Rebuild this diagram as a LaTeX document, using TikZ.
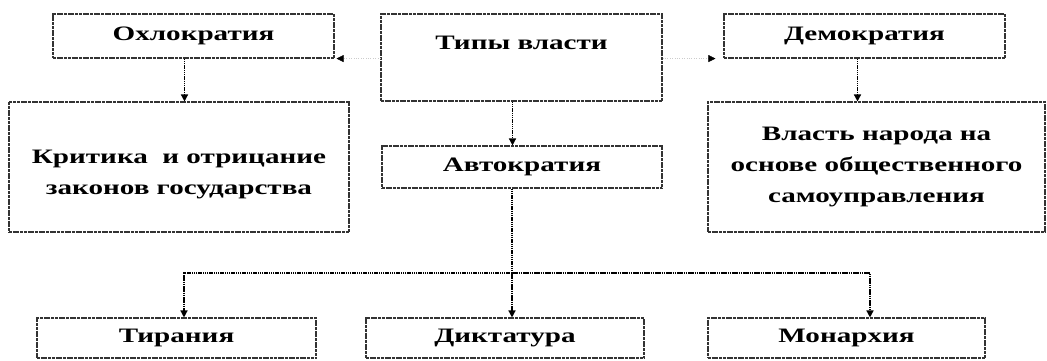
\documentclass[tikz,border=0pt]{standalone}
\usepackage{fontspec}
\setmainfont[FakeStretch=1.42]{Liberation Serif}
\usetikzlibrary{arrows.meta,positioning}

\begin{document}
\begin{tikzpicture}[
    box/.style={draw=black!80, line width=1.1pt, dash pattern=on 3pt off 0.7pt,
      fill=white, inner sep=2pt, align=center, font=\fontsize{20.5}{31}\selectfont\bfseries},
    txt/.style={align=center, font=\fontsize{20.5}{31}\selectfont\bfseries},
    line/.style={line width=1.4pt, dash pattern=on 1.5pt off 0.7pt},
    link/.style={line, -{Triangle[length=7pt,width=7pt]}},
    faint/.style={draw=black!20, thin, dotted, -{Triangle[length=7pt,width=7pt,black]}}]
  \useasboundingbox (0pt,0pt) rectangle (1047pt,360pt);
  % top row
  \draw (193.5pt, 324pt)node[box, minimum width=281pt, minimum height=44pt](ohlo){Охлократия};
  \draw (521.5pt, 302.5pt)node[box, minimum width=281pt, minimum height=87pt](tipy){};
  \draw (521.5pt, 317pt)node[txt](tipyt){Типы власти};
  \draw (864.5pt, 324pt)node[box, minimum width=281pt, minimum height=44pt](demo){Демократия};
  % middle row
  \draw (179pt, 193pt)node[box, minimum width=340pt, minimum height=130pt](krit){};
  \draw (179pt, 186pt)node[txt](kritt){Критика \ и отрицание\\законов государства};
  \draw (522pt, 193pt)node[box, minimum width=280pt, minimum height=42pt](avto){Автократия};
  \draw (876.5pt, 193pt)node[box, minimum width=337pt, minimum height=130pt](vlast){Власть народа на\\основе общественного\\самоуправления};
  % bottom row
  \draw (176.5pt, 22pt)node[box, minimum width=279pt, minimum height=40pt](tir){Тирания};
  \draw (505pt, 22pt)node[box, minimum width=278pt, minimum height=40pt](dikt){Диктатура};
  \draw (846.5pt, 22pt)node[box, minimum width=277pt, minimum height=40pt](mon){Монархия};
  \coordinate (hub) at (512pt, 87pt);
  % connectors
  \draw[faint] (tipy.west |- ohlo.south east) -- ([xshift=2pt]ohlo.south east);
  \draw[faint] (tipy.east |- demo.south west) -- ([xshift=-8pt]demo.south west);
  \draw[link] ([xshift=-9pt]ohlo.south) -- ([xshift=-9pt]ohlo.south |- krit.north);
  \draw[link] ([xshift=-7pt]demo.south) -- ([xshift=-7pt]demo.south |- vlast.north);
  \draw[link] ([xshift=-9pt]tipy.south) -- ([xshift=-9pt]tipy.south |- avto.north);
  \draw[line] ([xshift=-10pt]avto.south) -- (hub);
  \draw[link] (hub) -| ([xshift=7.5pt]tir.north);
  \draw[link] (hub) -- (hub |- dikt.north);
  \draw[link] (hub) -| ([xshift=23.5pt]mon.north);
\end{tikzpicture}
\end{document}
